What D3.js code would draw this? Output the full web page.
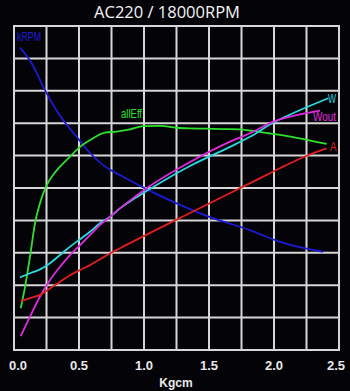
<!DOCTYPE html>
<html>
<head>
<meta charset="utf-8">
<script src="https://cdn.jsdelivr.net/npm/d3@7"></script>
<style>
  body { margin: 0; background: #040408; }
  svg { display: block; }
</style>
</head>
<body>
<div id="chart"></div>
<script>
const WIDTH = 350, HEIGHT = 391;
const LEFT = 14, RIGHT = 339, TOP = 26, BOTTOM = 350;
const GRID_COLOR = "#d6d6d6";

const TITLE = "AC220 / 18000RPM";
const X_TITLE = "Kgcm";
const xTicks = [0, 0.5, 1, 1.5, 2, 2.5];

// values are read in grid units (0 = bottom line, 10 = top line)
const rpmTorque = [0.046, 0.136, 0.238, 0.341, 0.482, 0.585, 0.738, 0.815, 1.046, 1.277, 1.508, 1.815, 2.046, 2.223, 2.377];
const rpmValues = [9.33, 8.85, 8.02, 7.31, 6.58, 6.08, 5.56, 5.40, 4.91, 4.48, 4.10, 3.70, 3.34, 3.15, 3.03];

const effTorque = [0.052, 0.085, 0.123, 0.162, 0.2, 0.252, 0.3, 0.354, 0.431, 0.508, 0.585, 0.7, 0.79, 0.892, 0.995, 1.123, 1.252, 1.354, 1.482, 1.608, 1.738, 1.815, 1.992, 2.175, 2.405];
const effValues = [1.29, 1.95, 2.88, 3.92, 4.54, 5.09, 5.40, 5.66, 5.97, 6.27, 6.48, 6.71, 6.74, 6.81, 6.91, 6.92, 6.86, 6.84, 6.83, 6.82, 6.81, 6.77, 6.67, 6.55, 6.36];

const wTorque = [0.046, 0.123, 0.2, 0.277, 0.354, 0.431, 0.508, 0.585, 0.662, 0.738, 0.815, 1.046, 1.354, 1.662, 1.815, 1.995, 2.175, 2.418];
const wValues = [2.24, 2.37, 2.49, 2.68, 2.93, 3.19, 3.42, 3.65, 3.91, 4.11, 4.37, 4.97, 5.68, 6.27, 6.58, 7.02, 7.36, 7.77];

const woutTorque = [0.052, 0.123, 0.2, 0.277, 0.354, 0.431, 0.508, 0.585, 0.662, 0.738, 0.815, 1.046, 1.354, 1.662, 1.815, 1.995, 2.175, 2.354];
const woutValues = [0.43, 1.03, 1.65, 2.16, 2.57, 2.93, 3.24, 3.55, 3.86, 4.11, 4.37, 5.06, 5.80, 6.43, 6.69, 7.05, 7.25, 7.39];

const ampTorque = [0.052, 0.123, 0.2, 0.277, 0.354, 0.431, 0.508, 0.585, 0.662, 0.738, 0.815, 1.354, 1.867, 2.046, 2.225, 2.405];
const ampValues = [1.51, 1.60, 1.70, 1.90, 2.11, 2.31, 2.47, 2.62, 2.80, 2.98, 3.14, 4.23, 5.25, 5.61, 5.95, 6.22];

const series = [
  {name: "kRPM", color: "#1a1ad8", x: rpmTorque, y: rpmValues},
  {name: "allEff", color: "#2ee02e", x: effTorque, y: effValues},
  {name: "W", color: "#2ad8e0", x: wTorque, y: wValues},
  {name: "Wout", color: "#e02ae0", x: woutTorque, y: woutValues},
  {name: "A", color: "#e01e1e", x: ampTorque, y: ampValues}
];

const svg = d3.select("#chart").append("svg")
  .attr("width", WIDTH)
  .attr("height", HEIGHT);

svg.append("rect")
  .attr("width", WIDTH).attr("height", HEIGHT)
  .attr("fill", "#040408");

const xScale = d3.scaleLinear().domain([0, 2.5]).range([LEFT, RIGHT]);
const yScale = d3.scaleLinear().domain([0, 10]).range([BOTTOM, TOP]);

// Grid:
const grid = svg.append("g")
  .attr("stroke", GRID_COLOR)
  .attr("stroke-width", 2);

grid.selectAll("line.v")
  .data(d3.range(0, 11).map(i => i * 0.25))
  .enter().append("line")
  .attr("class", "v")
  .attr("x1", d => xScale(d)).attr("x2", d => xScale(d))
  .attr("y1", TOP).attr("y2", BOTTOM);

grid.selectAll("line.h")
  .data(d3.range(0, 11))
  .enter().append("line")
  .attr("class", "h")
  .attr("x1", LEFT - 1).attr("x2", RIGHT + 1)
  .attr("y1", d => yScale(d)).attr("y2", d => yScale(d));

// Title and axis labels:
svg.append("text")
  .attr("x", 167).attr("y", 18)
  .attr("text-anchor", "middle")
  .attr("fill", "#f4f4f4")
  .style("font-family", "'Open Sans', sans-serif")
  .style("font-size", "16.5px")
  .text(TITLE);

svg.append("g").selectAll("text")
  .data(xTicks)
  .enter().append("text")
  .attr("x", (d, i) => xScale(d) + (i === 0 ? 4 : i === xTicks.length - 1 ? -3 : 0))
  .attr("y", 370)
  .attr("text-anchor", "middle")
  .attr("fill", "#e8e8e8")
  .style("font-family", "'Liberation Sans', Arial, sans-serif")
  .style("font-weight", "bold")
  .style("font-size", "13px")
  .text(d => d.toFixed(1));

svg.append("text")
  .attr("x", 176).attr("y", 387)
  .attr("text-anchor", "middle")
  .attr("fill", "#e8e8e8")
  .style("font-family", "'Liberation Sans', Arial, sans-serif")
  .style("font-weight", "bold")
  .style("font-size", "12px")
  .text(X_TITLE);

// Curves:
const line = d3.line()
  .x(d => xScale(d[0]))
  .y(d => yScale(d[1]))
  .curve(d3.curveMonotoneX);

svg.append("g").selectAll("path")
  .data(series)
  .enter().append("path")
  .attr("d", s => line(s.x.map((x, i) => [x, s.y[i]])))
  .attr("fill", "none")
  .attr("stroke", s => s.color)
  .attr("stroke-width", 1.8);

// Series labels:
const labels = [
  {text: "kRPM", color: "#1a1ad8", x: 17, y: 41, w: 24},
  {text: "allEff", color: "#2ee02e", x: 121, y: 118, w: 21},
  {text: "W", color: "#2ad8e0", x: 328, y: 103, w: 8},
  {text: "Wout", color: "#e02ae0", x: 313, y: 121, w: 23},
  {text: "A", color: "#e01e1e", x: 330, y: 151, w: 6.5}
];

svg.append("g").selectAll("text")
  .data(labels)
  .enter().append("text")
  .attr("x", d => d.x).attr("y", d => d.y)
  .attr("fill", d => d.color)
  .attr("textLength", d => d.w)
  .attr("lengthAdjust", "spacingAndGlyphs")
  .style("font-family", "'Liberation Sans Narrow', 'Liberation Sans', sans-serif")
  .style("font-size", "13px")
  .text(d => d.text);
</script>
</body>
</html>
